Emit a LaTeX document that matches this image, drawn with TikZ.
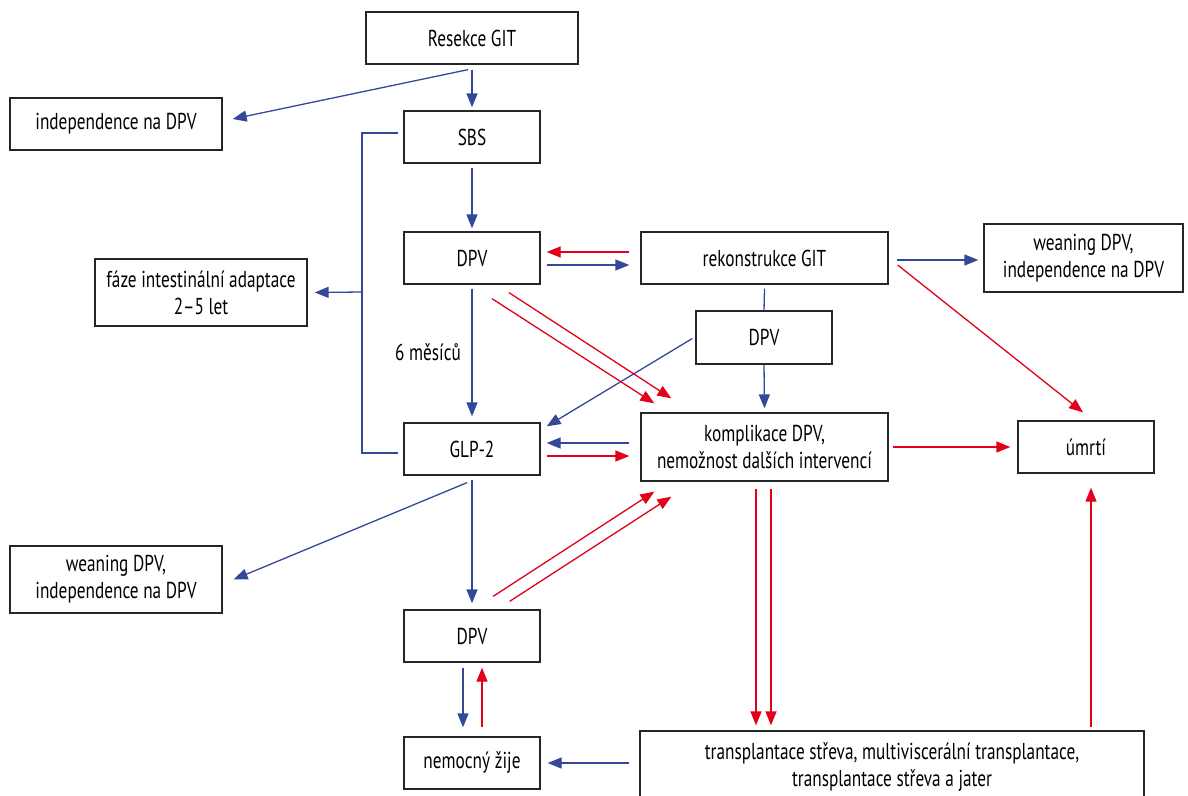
\documentclass[tikz,border=0pt]{standalone}
\usepackage{fontspec}
\setmainfont[FakeStretch=0.75]{PT Sans}
\usetikzlibrary{arrows.meta}
\definecolor{cblue}{HTML}{34489A}
\definecolor{cred}{HTML}{E2001A}
\tikzset{
  bx/.style={draw=black!85, line width=1.3pt, inner sep=0pt, align=center,
     font=\fontsize{23}{27}\selectfont, text=black},
  bl/.style={cblue, line width=1.3pt},
  rd/.style={cred, line width=1.3pt},
  tip/.style={-{Triangle[length=14pt,width=11pt]}},
}
\begin{document}
\begin{tikzpicture}[x=1pt,y=-1pt]
\useasboundingbox (0,0) rectangle (1188,795);
\node[bx, minimum width=212pt, minimum height=52pt] (res) at (472,38) {Resekce GIT};
\node[bx, minimum width=212pt, minimum height=52pt] (ind1) at (116,124) {independence na DPV};
\node[bx, minimum width=136pt, minimum height=52pt] (sbs) at (472,137) {SBS};
\node[bx, minimum width=136pt, minimum height=52pt] (dpv1) at (472,258) {DPV};
\node[bx, minimum width=212pt, minimum height=67pt] (faze) at (201,292.5) {fáze intestinální adaptace\\2–5 let};
\node[bx, minimum width=247pt, minimum height=52pt] (rek) at (764.5,258) {rekonstrukce GIT};
\node[bx, minimum width=199pt, minimum height=68pt] (wean2) at (1083.5,258) {weaning DPV,\\independence na DPV};
\node[bx, minimum width=136pt, minimum height=53pt] (dpv2) at (764,337.5) {DPV};
\node[bx, minimum width=136pt, minimum height=52pt] (glp) at (472,449) {GLP-2};
\node[bx, minimum width=247pt, minimum height=68pt] (kompl) at (764.5,447) {komplikace DPV,\\nemožnost dalších intervencí};
\node[bx, minimum width=136pt, minimum height=52pt] (umrti) at (1086,447) {úmrtí};
\node[bx, minimum width=212pt, minimum height=67pt] (wean1) at (116,579.5) {weaning DPV,\\independence na DPV};
\node[bx, minimum width=136pt, minimum height=52pt] (dpv3) at (472,636) {DPV};
\node[bx, minimum width=136pt, minimum height=52pt] (nem) at (472,763) {nemocný žije};
\node[bx, minimum width=504pt, minimum height=72pt] (trans) at (892,767) {transplantace střeva, multiviscerální transplantace,\\transplantace střeva a jater};
\node[font=\fontsize{23}{27}\selectfont, anchor=west, inner sep=0pt] (mes) at (395,352) {6 měsíců};

\coordinate (br1) at (362,133);
\coordinate (br2) at (362,453);
\coordinate (br3) at (362,292);
\path ([yshift=5]trans.north) coordinate (tn);
\path ([yshift=3]trans.north) coordinate (tn2);

% blue connectors
\draw[bl,tip] ([yshift=-5]res.south) -- ([yshift=3]sbs.north);
\draw[bl,tip] ([xshift=-4,yshift=-5]res.south) -- ([xshift=10,yshift=5]ind1.east);
\draw[bl,tip] ([yshift=-4]sbs.south) -- ([yshift=3]dpv1.north);
\draw[bl] ([xshift=-5,yshift=4]sbs.west) -- (br1) -- (br2) -- ([xshift=-5,yshift=-4]glp.west);
\draw[bl,tip] (br3) -- ([xshift=7]faze.east);
\draw[bl,tip] ([xshift=6,yshift=-7]dpv1.east) -- ([xshift=-11,yshift=-7]rek.west);
\draw[bl,tip] ([yshift=-4]dpv1.south) -- ([yshift=6]glp.north);
\draw[bl] ([yshift=-4]rek.south) -- (dpv2.north);
\draw[bl,tip] (dpv2.south) -- ([yshift=4]kompl.north);
\draw[bl,tip] ([xshift=-3,yshift=-1]dpv2.west) -- ([xshift=6,yshift=-4]glp.north east);
\draw[bl,tip] ([xshift=-11,yshift=4]kompl.west) -- ([xshift=6,yshift=6]glp.east);
\draw[bl,tip] ([xshift=8,yshift=-2]rek.east) -- ([xshift=-5,yshift=-2]wean2.west);
\draw[bl,tip] ([xshift=-5,yshift=-7]glp.south) -- ([xshift=11]wean1.east);
\draw[bl,tip] ([yshift=-4]glp.south) -- ([yshift=6]dpv3.north);
\draw[bl,tip] ([xshift=-10]trans.west |- nem.east) -- ([xshift=7]nem.east);
\draw[bl,tip] ([xshift=-9,yshift=-5]dpv3.south) -- ([xshift=-9,yshift=9]nem.north);

% red connectors
\draw[rd,tip] ([xshift=-11,yshift=6]rek.west) -- ([xshift=6,yshift=6]dpv1.east);
\draw[rd,tip] ([xshift=20,yshift=-14]dpv1.south) -- ([xshift=14,yshift=9]kompl.north west);
\draw[rd,tip] ([xshift=37,yshift=-8]dpv1.south) -- ([xshift=31,yshift=14]kompl.north west);
\draw[rd,tip] ([xshift=6,yshift=-7]glp.east) -- ([xshift=-11,yshift=-9]kompl.west);
\draw[rd,tip] ([xshift=4]kompl.east) -- ([xshift=-7]umrti.west);
\draw[rd,tip] ([xshift=9,yshift=-7]rek.east) -- ([xshift=-3,yshift=8]umrti.north);
\draw[rd,tip] ([xshift=-47.5,yshift=13]dpv3.north east) -- ([xshift=14,yshift=-10]kompl.south west);
\draw[rd,tip] ([xshift=-31,yshift=8]dpv3.north east) -- ([xshift=31,yshift=-15]kompl.south west);
\draw[rd,tip] ([xshift=-8.5,yshift=-7]kompl.south) -- ([xshift=-8.5]kompl.south |- tn);
\draw[rd,tip] ([xshift=6.5,yshift=-7]kompl.south) -- ([xshift=6.5]kompl.south |- tn);
\draw[rd,tip] ([xshift=5]umrti.south |- tn2) -- ([xshift=5,yshift=-14]umrti.south);
\draw[rd,tip] ([xshift=10,yshift=9]nem.north) -- ([xshift=10,yshift=-5]dpv3.south);
\end{tikzpicture}
\end{document}
